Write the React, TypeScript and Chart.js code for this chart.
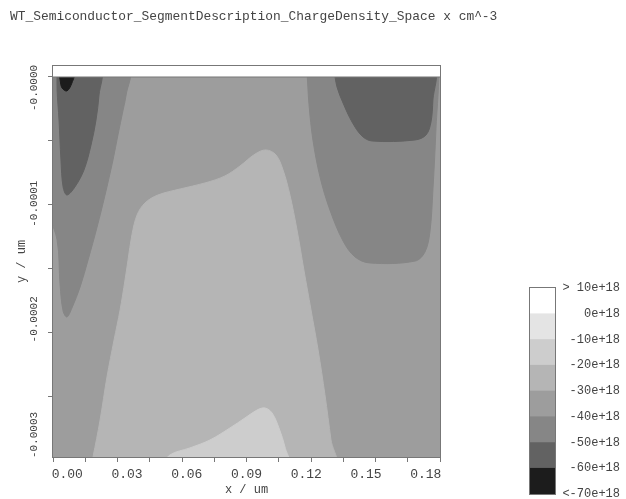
import React, { useEffect, useRef } from "react";
import { Chart, registerables } from "chart.js";

Chart.register(...registerables);

const FONT = "'Liberation Mono', 'DejaVu Sans Mono', monospace";
const TEXT_COLOR = "#444";
const LINE_COLOR = "#777";

const chartTitle = "WT_Semiconductor_SegmentDescription_ChargeDensity_Space x cm^-3";
const xAxisTitle = "x / um";
const yAxisTitle = "y / um";

// tick marks and tick labels
const xTickValues = [0, 0.015, 0.03, 0.045, 0.06, 0.075, 0.09, 0.105, 0.12, 0.135, 0.15, 0.165, 0.18];
const xLabelValues = [0, 0.03, 0.06, 0.09, 0.12, 0.15, 0.18];
const xLabels = ["0.00", "0.03", "0.06", "0.09", "0.12", "0.15", "0.18"];
const yTickValues = [0, -0.00005, -0.0001, -0.00015, -0.0002, -0.00025];
const yLabelValues = [0, -0.0001, -0.0002, -0.0003];
const yLabels = ["-0.0000", "-0.0001", "-0.0002", "-0.0003"];

// axis ranges (um)
const xRange = [0, 0.18];
const yRange = [-0.0002969, 0.0000086];
const xLabelRange = [-0.00716, 0.18716];
const yLabelRange = [-0.000319, 0.000019];

// colour levels (1e18 cm^-3)
const bandEdges = [-70, -60, -50, -40, -30, -20, -10, 0, 10];
const bandLabels = ["<-70e+18", "-60e+18", "-50e+18", "-40e+18", "-30e+18", "-20e+18", "-10e+18", "0e+18", "> 10e+18"];
const bandColors = ["#1c1c1c", "#626262", "#868686", "#9d9d9d", "#b5b5b5", "#cdcdcd", "#e4e4e4", "#ffffff"];

// contour regions: [x um, y um] outlines, band index = level
const backgroundPts: [number, number][] = [[-0.01, 0.00002], [0.19, 0.00002], [0.19, -0.00035], [-0.01, -0.00035]];
const regionLeftOuter: [number, number][] = [
  [-0.0037, 0.0000055], [0.0349, 0.0000055], [0.034, -0.0000141], [0.0326, -0.0000258], [0.0302, -0.0000453],
  [0.0279, -0.0000648], [0.0242, -0.0000922], [0.0205, -0.0001172], [0.0163, -0.000143], [0.0126, -0.0001641],
  [0.0088, -0.0001805], [0.0065, -0.0001875], [0.0047, -0.0001828], [0.0033, -0.0001625], [0.0019, -0.0001273],
  [-0.0037, -0.0000961],
];
const regionRightOuter: [number, number][] = [
  [0.1181, 0.0000055], [0.1791, 0.0000055], [0.1781, -0.0000414], [0.1767, -0.0000883], [0.1753, -0.0001211],
  [0.173, -0.0001367], [0.1684, -0.0001438], [0.1474, -0.0001453], [0.1405, -0.0001406], [0.1349, -0.0001281],
  [0.1288, -0.0001039], [0.1242, -0.0000781], [0.1209, -0.0000492], [0.1191, -0.0000219],
];
const regionCentre: [number, number][] = [
  [0.0172, -0.000307], [0.0186, -0.0002969], [0.0219, -0.000268], [0.0251, -0.0002344], [0.0284, -0.0002055],
  [0.0312, -0.000182], [0.0335, -0.0001586], [0.0349, -0.000143], [0.0367, -0.0001234], [0.0391, -0.0001078],
  [0.0428, -0.0000984], [0.0488, -0.0000922], [0.0591, -0.0000875], [0.0707, -0.0000828], [0.08, -0.0000773],
  [0.087, -0.0000695], [0.094, -0.0000602], [0.0991, -0.000057], [0.1037, -0.0000609], [0.107, -0.0000727],
  [0.1102, -0.0000922], [0.1135, -0.0001195], [0.1167, -0.0001508], [0.12, -0.000182], [0.1233, -0.0002133],
  [0.1265, -0.0002484], [0.1293, -0.0002836], [0.1312, -0.000307],
];
const regionBump: [number, number][] = [
  [0.0488, -0.000307], [0.0544, -0.0002953], [0.0637, -0.0002898], [0.073, -0.0002836], [0.0823, -0.0002742],
  [0.0893, -0.0002664], [0.0949, -0.0002602], [0.0986, -0.0002586], [0.1019, -0.0002625], [0.1051, -0.0002742],
  [0.1079, -0.0002891], [0.1098, -0.000307],
];
const regionLeftInner: [number, number][] = [
  [0.0019, 0.0000055], [0.0219, 0.0000055], [0.0214, -0.0000141], [0.02, -0.0000336], [0.0177, -0.0000531],
  [0.0144, -0.0000727], [0.0102, -0.0000859], [0.0065, -0.0000922], [0.0047, -0.0000859], [0.0037, -0.0000648],
  [0.0028, -0.0000336], [0.0019, -0.0000102],
];
const regionRightInner: [number, number][] = [
  [0.1307, 0.0000055], [0.1772, 0.0000055], [0.1767, -0.000018], [0.1758, -0.0000352], [0.1735, -0.0000453],
  [0.1684, -0.0000492], [0.1484, -0.00005], [0.1437, -0.0000461], [0.1391, -0.0000352], [0.1349, -0.0000203],
  [0.1321, -0.0000078],
];
const regionSpot: [number, number][] = [
  [0.0028, 0.0000039], [0.0098, 0.0000039], [0.0088, -0.0000047], [0.0065, -0.0000109], [0.0042, -0.0000086],
  [0.0033, -0.0000023],
];
const regionTop: [number, number][] = [[-0.01, 0], [0.19, 0], [0.19, 0.00002], [-0.01, 0.00002]];

// drawn bottom to top
const regions = [
  { pts: backgroundPts, band: 3, smooth: false },
  { pts: regionLeftOuter, band: 2, smooth: true },
  { pts: regionRightOuter, band: 2, smooth: true },
  { pts: regionCentre, band: 4, smooth: true },
  { pts: regionBump, band: 5, smooth: true },
  { pts: regionLeftInner, band: 1, smooth: true },
  { pts: regionRightInner, band: 1, smooth: true },
  { pts: regionSpot, band: 0, smooth: true },
  { pts: regionTop, band: 7, smooth: false },
];

const framePlugin = {
  id: "frame",
  afterDraw(chart: any) {
    const { ctx, chartArea: a } = chart;
    ctx.save();
    ctx.strokeStyle = LINE_COLOR;
    ctx.lineWidth = 1;
    ctx.strokeRect(Math.round(a.left) - 0.5, Math.round(a.top) - 0.5, Math.round(a.right - a.left) + 1, Math.round(a.bottom - a.top) + 1);
    ctx.restore();
  },
};

export default function App() {
  const mainRef = useRef<HTMLCanvasElement>(null);
  const barRef = useRef<HTMLCanvasElement>(null);

  useEffect(() => {
    Chart.defaults.font.family = FONT;
    Chart.defaults.color = TEXT_COLOR;

    const datasets = regions.map((r, i) => {
      const isTop = r.band === bandColors.length - 1;
      return {
        data: [...r.pts, r.pts[0]].map(([x, y]) => ({ x, y })),
        showLine: true,
        fill: "shape",
        backgroundColor: bandColors[r.band],
        borderColor: isTop ? LINE_COLOR : bandColors[r.band],
        borderWidth: 1,
        pointRadius: 0,
        tension: r.smooth ? 0.35 : 0,
        order: regions.length - i,
      };
    });

    const main = new Chart(mainRef.current!, {
      type: "scatter",
      data: { datasets } as any,
      options: {
        responsive: false,
        animation: false,
        events: [],
        layout: { padding: { left: 10, right: 10, top: 0, bottom: 0 } },
        plugins: {
          legend: { display: false },
          tooltip: { enabled: false },
          title: {
            display: true,
            text: chartTitle,
            align: "start",
            color: TEXT_COLOR,
            font: { family: FONT, size: 12.9, weight: "normal" },
            padding: { top: 9.2, bottom: 41.3 },
          },
        },
        scales: {
          x: {
            type: "linear",
            position: "bottom",
            weight: 0,
            min: xRange[0],
            max: xRange[1],
            afterBuildTicks: (s: any) => { s.ticks = xTickValues.map((v) => ({ value: v })); },
            afterFit: (s: any) => { s.height = 5; },
            ticks: { display: false },
            grid: { display: true, drawOnChartArea: false, drawTicks: true, tickLength: 5, color: LINE_COLOR },
            border: { display: false },
          },
          y: {
            type: "linear",
            position: "left",
            weight: 0,
            min: yRange[0],
            max: yRange[1],
            afterBuildTicks: (s: any) => { s.ticks = yTickValues.map((v) => ({ value: v })); },
            afterFit: (s: any) => { s.width = 5; },
            ticks: { display: false },
            grid: { display: true, drawOnChartArea: false, drawTicks: true, tickLength: 5, color: LINE_COLOR },
            border: { display: false },
          },
          xl: {
            type: "linear",
            position: "bottom",
            weight: 1,
            min: xLabelRange[0],
            max: xLabelRange[1],
            afterBuildTicks: (s: any) => { s.ticks = xLabelValues.map((v) => ({ value: v })); },
            afterFit: (s: any) => { s.height = 37; },
            ticks: {
              autoSkip: false,
              maxRotation: 0,
              minRotation: 0,
              padding: 5,
              color: TEXT_COLOR,
              font: { family: FONT, size: 13 },
              callback: (_v: any, i: number) => xLabels[i],
            },
            grid: { display: false, drawTicks: false },
            border: { display: false },
            title: {
              display: true,
              text: xAxisTitle,
              color: TEXT_COLOR,
              font: { family: FONT, size: 12 },
              padding: { top: 0, bottom: 1.8 },
            },
          },
          yl: {
            type: "linear",
            position: "left",
            weight: 1,
            min: yLabelRange[0],
            max: yLabelRange[1],
            afterBuildTicks: (s: any) => { s.ticks = yLabelValues.map((v) => ({ value: v })); },
            afterFit: (s: any) => { s.width = 38; },
            ticks: {
              autoSkip: false,
              minRotation: 90,
              maxRotation: 90,
              crossAlign: "center",
              padding: -9.1,
              color: TEXT_COLOR,
              font: { family: FONT, size: 11 },
              callback: (_v: any, i: number) => yLabels[i],
            },
            grid: { display: false, drawTicks: false },
            border: { display: false },
            title: {
              display: true,
              text: yAxisTitle,
              color: TEXT_COLOR,
              font: { family: FONT, size: 12 },
              padding: { top: 5, bottom: 0 },
            },
          },
          yr: {
            type: "linear",
            position: "right",
            afterFit: (s: any) => { s.width = 176; },
            ticks: { display: false },
            grid: { display: false, drawTicks: false },
            border: { display: false },
          },
        },
      } as any,
      plugins: [framePlugin],
    });

    const barDatasets = bandColors.map((c, i) => ({
      data: [[bandEdges[i], bandEdges[i + 1]]],
      backgroundColor: c,
      borderWidth: 0,
      barPercentage: 1,
      categoryPercentage: 1,
      grouped: false,
    }));

    const bar = new Chart(barRef.current!, {
      type: "bar",
      data: { labels: [""], datasets: barDatasets } as any,
      options: {
        responsive: false,
        animation: false,
        events: [],
        layout: { padding: { left: 10, right: 6, top: 10, bottom: 16 } },
        plugins: { legend: { display: false }, tooltip: { enabled: false } },
        scales: {
          x: { display: false },
          y: {
            type: "linear",
            position: "right",
            min: bandEdges[0],
            max: bandEdges[bandEdges.length - 1],
            afterBuildTicks: (s: any) => { s.ticks = bandEdges.map((v) => ({ value: v })); },
            afterFit: (s: any) => { s.width = 65; },
            ticks: {
              autoSkip: false,
              crossAlign: "far",
              padding: 0,
              color: TEXT_COLOR,
              font: { family: FONT, size: 12 },
              callback: (_v: any, i: number) => bandLabels[i],
            },
            grid: { display: false, drawTicks: false },
            border: { display: false },
          },
        },
      } as any,
      plugins: [framePlugin],
    });

    return () => {
      main.destroy();
      bar.destroy();
    };
  }, []);

  return (
    <div style={{ position: "fixed", left: 0, top: 0, width: 626, height: 499, overflow: "hidden", background: "#fff" }}>
      <canvas ref={mainRef} width={626} height={499} style={{ position: "absolute", left: 0, top: 0 }} />
      <canvas ref={barRef} width={106} height={232} style={{ position: "absolute", left: 520, top: 278 }} />
    </div>
  );
}
